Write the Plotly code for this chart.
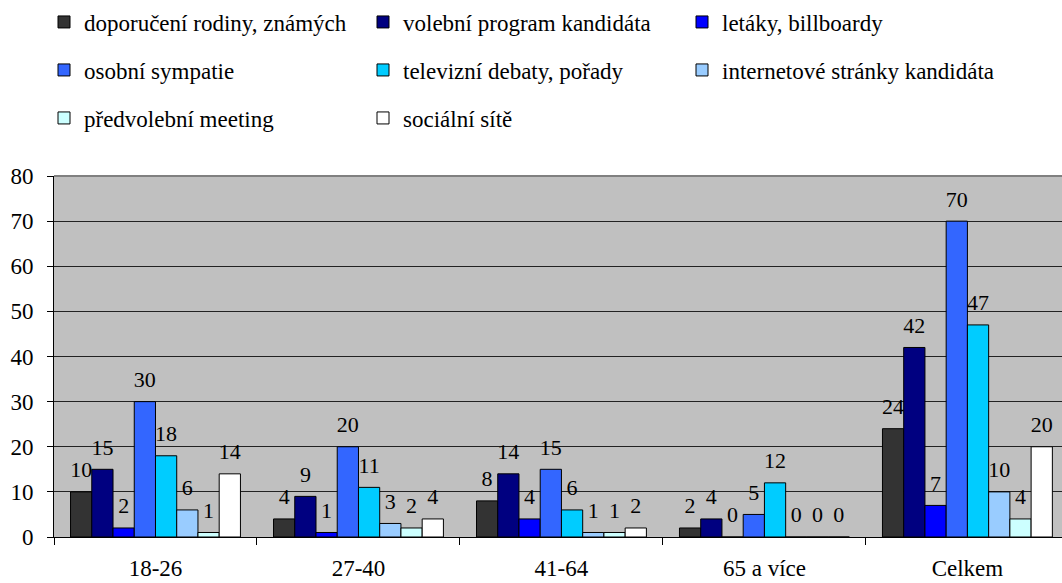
import plotly.graph_objects as go

categories = ["18-26", "27-40", "41-64", "65 a více", "Celkem"]
series_names = [
    "doporučení rodiny, známých",
    "volební program kandidáta",
    "letáky, billboardy",
    "osobní sympatie",
    "televizní debaty, pořady",
    "internetové stránky kandidáta",
    "předvolební meeting",
    "sociální sítě",
]
doporuceni = [10, 4, 8, 2, 24]
volebni_program = [15, 9, 14, 4, 42]
letaky = [2, 1, 4, 0, 7]
sympatie = [30, 20, 15, 5, 70]
debaty = [18, 11, 6, 12, 47]
internet = [6, 3, 1, 0, 10]
meeting = [1, 2, 1, 0, 4]
socialni = [14, 4, 2, 0, 20]

values = [doporuceni, volebni_program, letaky, sympatie, debaty, internet, meeting, socialni]
colors = ["#333333", "#000080", "#0000FF", "#3366FF", "#00CCFF", "#99CCFF", "#CCFFFF", "#FFFFFF"]
legend_ids = ["legend", "legend", "legend", "legend2", "legend2", "legend2", "legend3", "legend3"]

FONT = "Liberation Serif"
FS = 23
FS_LBL = 22
GAP = 0.163

fig = go.Figure()
for name, vals, col, lg in zip(series_names, values, colors, legend_ids):
    fig.add_trace(go.Bar(
        x=categories, y=vals, name=name, legend=lg,
        marker=dict(color=col, line=dict(color="black", width=1)),
        cliponaxis=False,
    ))
# value labels, grouped to sit over their bars
for name, vals in zip(series_names, values):
    fig.add_trace(go.Scatter(
        x=categories, y=vals, name=name, showlegend=False,
        mode="markers+text", text=[str(v) for v in vals], textposition="top center",
        marker=dict(size=13, opacity=0, color="black"),
        textfont=dict(family=FONT, size=FS_LBL, color="black"),
        cliponaxis=False, hoverinfo="skip",
    ))

W, H = 1062, 583
L, T, B = 54, 176, 46
plot_h = H - T - B

def legend_cfg(row_y):
    return dict(
        orientation="h", entrywidth=274, entrywidthmode="pixels",
        x=(44 - L) / (W - L), xanchor="left",
        y=(H - B - row_y) / plot_h, yanchor="middle",
        font=dict(family=FONT, size=FS, color="black"),
        bgcolor="rgba(0,0,0,0)", borderwidth=0,
        itemclick=False, itemdoubleclick=False,
    )

fig.update_layout(
    width=W, height=H,
    margin=dict(l=L, r=0, t=T, b=B),
    barmode="group", bargap=GAP, bargroupgap=0,
    scattermode="group", scattergap=GAP,
    plot_bgcolor="#C0C0C0", paper_bgcolor="white",
    font=dict(family=FONT, size=FS, color="black"),
    legend=legend_cfg(22),
    legend2=legend_cfg(70),
    legend3=legend_cfg(118),
)
fig.update_xaxes(
    type="category", range=[-0.5, 4.466], automargin=False,
    showline=True, linecolor="black", linewidth=1,
    ticks="outside", tickson="boundaries", ticklen=7, tickcolor="black",
    showgrid=False, ticklabelstandoff=10,
    tickfont=dict(family=FONT, size=FS, color="black"),
)
fig.update_yaxes(
    range=[0, 80], dtick=10, automargin=False,
    showline=True, linecolor="black", linewidth=1,
    ticks="outside", ticklen=6, tickcolor="black",
    showgrid=True, gridcolor="#222222", gridwidth=1,
    zeroline=False, ticklabelstandoff=9,
    tickfont=dict(family=FONT, size=FS, color="black"),
)
fig.add_shape(type="line", xref="paper", yref="paper", x0=0, x1=1, y0=1, y1=1,
              line=dict(color="#808080", width=2), layer="above")

fig.write_html("out.html", config={"displayModeBar": False},
               post_script="document.body.style.margin='0px';")
